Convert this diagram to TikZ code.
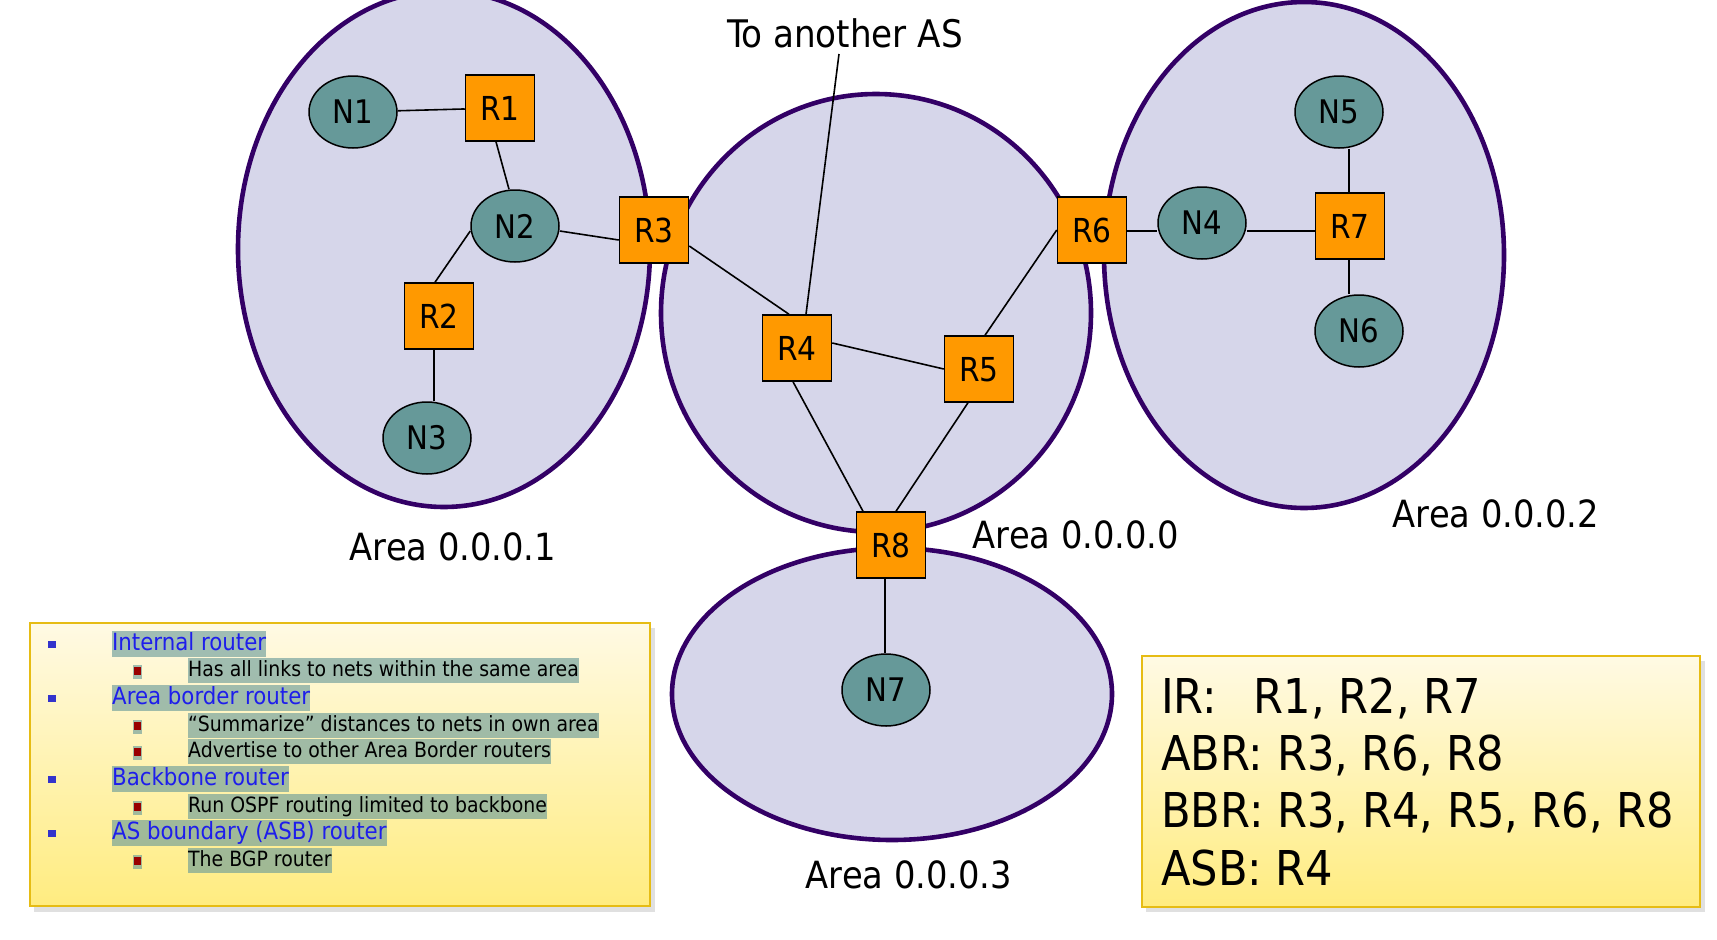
\documentclass[tikz,border=0pt]{standalone}
\usepackage{fontspec}
\setmainfont{DejaVu Sans Condensed}
\usetikzlibrary{shapes.geometric}
\definecolor{areafill}{RGB}{214,214,234}
\definecolor{areadraw}{RGB}{51,0,102}
\definecolor{rtr}{RGB}{255,153,0}
\definecolor{netcol}{RGB}{102,153,153}
\definecolor{boxedge}{RGB}{230,188,20}
\definecolor{boxtop}{RGB}{255,250,228}
\definecolor{boxbot}{RGB}{255,236,128}
\definecolor{hlcol}{RGB}{102,153,153}
\definecolor{lvlone}{RGB}{30,30,235}
\definecolor{bulone}{RGB}{51,51,204}
\definecolor{bultwo}{RGB}{153,0,0}
\begin{document}
\begin{tikzpicture}[x=1pt,y=-1pt,
  area/.style={draw=areadraw,fill=areafill,line width=4.6pt},
  router/.style={draw=black,fill=rtr,line width=1.5pt,minimum width=69pt,minimum height=66pt,
    inner sep=0pt,font=\fontsize{33}{33}\selectfont,text height=25pt,text depth=0pt},
  netnode/.style={ellipse,draw=black,fill=netcol,line width=1.5pt,minimum width=88pt,
    minimum height=72pt,inner sep=0pt,font=\fontsize{32.5}{32.5}\selectfont},
  link/.style={line width=1.6pt,black},
  arealabel/.style={font=\fontsize{37.5}{37.5}\selectfont,anchor=base,inner sep=0pt},
  infobox/.style={draw=boxedge,line width=2pt,top color=boxtop,bottom color=boxbot},
  boxshadow/.style={fill=black,opacity=0.12},
  lvlonetext/.style={anchor=base west,inner xsep=0pt,inner ysep=0pt,text height=19pt,text depth=7pt,
    fill=hlcol,fill opacity=0.62,text opacity=1,text=lvlone,font=\fontsize{23.7}{23.7}\selectfont},
  lvltwotext/.style={anchor=base west,inner xsep=0pt,inner ysep=0pt,text height=18pt,text depth=7pt,
    fill=hlcol,fill opacity=0.62,text opacity=1,text=black,font=\fontsize{21}{21}\selectfont},
  bigtext/.style={anchor=base west,inner sep=0pt,font=\fontsize{48}{48}\selectfont}
]
\useasboundingbox (0,0) rectangle (1717,940);
\fill[white] (0,0) rectangle (1717,940);

% areas
\draw[area] (444,249) ellipse [x radius=206pt, y radius=258pt];
\draw[area] (876,313) ellipse [x radius=215pt, y radius=219pt];
\draw[area] (1304,255) ellipse [x radius=200pt, y radius=253pt];
\draw[area] (892,694) ellipse [x radius=220pt, y radius=146pt];

% area labels
\node[arealabel] (A1) at (453,560) {Area 0.0.0.1};
\node[arealabel] (A0) at (1076,548) {Area 0.0.0.0};
\node[arealabel] (A2) at (1496,527) {Area 0.0.0.2};
\node[arealabel] (A3) at (909,888) {Area 0.0.0.3};
\node[font=\fontsize{38}{38}\selectfont,anchor=base,inner sep=0pt] (toAS) at (845,47) {To another AS};

% nets
\node[netnode] (N1) at (353,112) {N1};
\node[netnode] (N2) at (515,226) {N2};
\node[netnode] (N3) at (427,438) {N3};
\node[netnode] (N4) at (1202,223) {N4};
\node[netnode] (N5) at (1339,112) {N5};
\node[netnode] (N6) at (1359,331) {N6};
\node[netnode] (N7) at (886,690) {N7};

% routers
\node[router] (R1) at (500,108) {R1};
\node[router] (R2) at (439,316) {R2};
\node[router] (R3) at (654,230) {R3};
\node[router] (R4) at (797,348) {R4};
\node[router] (R5) at (979,369) {R5};
\node[router] (R6) at (1092,230) {R6};
\node[router] (R7) at (1350,226) {R7};
\node[router] (R8) at (891,545) {R8};

% links
\draw[link] (N1) -- (R1);
\draw[link] ([xshift=-4pt]R1.south) -- ([xshift=-6pt]N2.north);
\draw[link] ([yshift=-5pt]N2.east) -- ([yshift=-10pt]R3.west);
\draw[link] ([yshift=-5pt]N2.west) -- ([xshift=-4pt]R2.north);
\draw[link] ([xshift=-5pt]R2.south) -- ([xshift=7pt]N3.north);
\draw[link] ([yshift=-16pt]R3.east) -- ([xshift=-8pt]R4.north);
\draw[link] ([xshift=-6pt,yshift=-7pt]toAS.base) -- ([xshift=9pt]R4.north);
\draw[link] ([yshift=5pt]R4.east) -- (R5.west);
\draw[link] (R6.west) -- ([xshift=6pt]R5.north);
\draw[link] ([xshift=-4pt]R4.south) -- ([xshift=-28pt]R8.north);
\draw[link] ([xshift=-11pt]R5.south) -- ([xshift=5pt]R8.north);
\draw[link] ([xshift=-6pt]R8.south) -- ([xshift=-1pt]N7.north);
\draw[link] ([yshift=-1pt]R6.east) -- ([yshift=-8pt]N4.west);
\draw[link] ([yshift=-8pt]N4.east) -- ([yshift=-5pt]R7.west);
\draw[link] ([xshift=10pt]N5.south) -- ([xshift=-1pt]R7.north);
\draw[link] ([xshift=-1pt]R7.south) -- ([xshift=-10pt]N6.north);

% legend box
\fill[boxshadow] (34,628) rectangle (655,912);
\draw[infobox] (30,623) rectangle (650,906);
\foreach \y/\t [count=\i] in {650/{Internal router}, 704/{Area border router}, 785/{Backbone router}, 839/{AS boundary (ASB) router}} {
  \fill[bulone] (48,{\y-9}) rectangle (56,{\y-2});
  \node[lvlonetext] (Lone\i) at (112,\y) {\t};
}
\foreach \y/\t [count=\i] in {676/{Has all links to nets within the same area}, 731/{“Summarize” distances to nets in own area}, 757/{Advertise to other Area Border routers}, 812/{Run OSPF routing limited to backbone}, 866/{The BGP router}} {
  \fill[hlcol,opacity=0.62] (133,{\y-11}) rectangle (142,{\y+3});
  \fill[bultwo] (134,{\y-9}) rectangle (141,{\y-1});
  \node[lvltwotext] (Ltwo\i) at (188,\y) {\t};
}

% summary box
\fill[boxshadow] (1146,661) rectangle (1705,912);
\draw[infobox] (1142,656) rectangle (1700,907);
\node[bigtext] (S1) at (1161,713) {IR:\hspace{37pt}R1, R2, R7};
\node[bigtext] (S2) at (1161,770) {ABR: R3, R6, R8};
\node[bigtext] (S3) at (1161,827) {BBR: R3, R4, R5, R6, R8};
\node[bigtext] (S4) at (1161,885) {ASB: R4};
\end{tikzpicture}
\end{document}
